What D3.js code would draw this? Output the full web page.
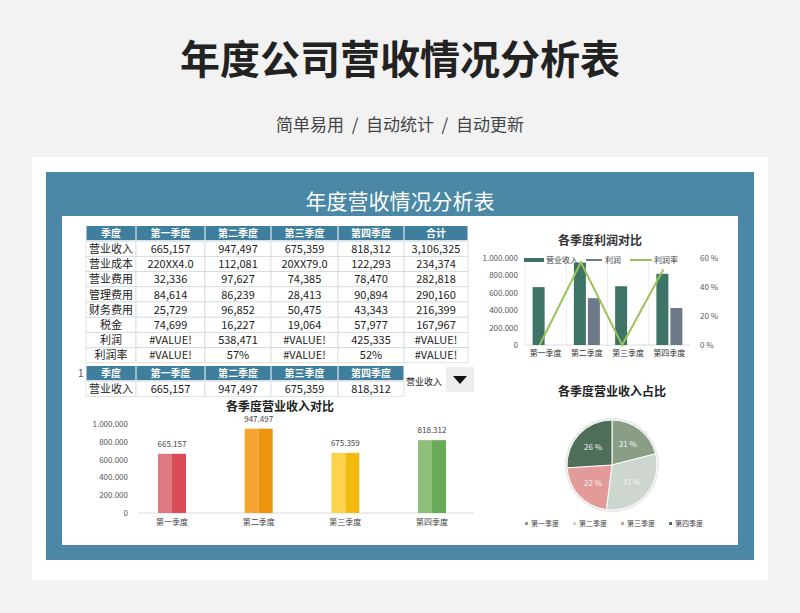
<!DOCTYPE html><html><head><meta charset="utf-8"><script src="https://cdn.jsdelivr.net/npm/d3@7"></script>
<style>body{margin:0;background:#f2f2f2;font-family:"Noto Sans CJK SC",sans-serif}</style></head><body>
<svg id="c" width="800" height="613"></svg>
<script>
const quarters=["第一季度","第二季度","第三季度","第四季度"];
const headers=["季度","第一季度","第二季度","第三季度","第四季度","合计"];
const rowNames=["营业收入","营业成本","营业费用","管理费用","财务费用","税金","利润","利润率"];
const tableRows=[
["665,157","947,497","675,359","818,312","3,106,325"],
["220XX4.0","112,081","20XX79.0","122,293","234,374"],
["32,336","97,627","74,385","78,470","282,818"],
["84,614","86,239","28,413","90,894","290,160"],
["25,729","96,852","50,475","43,343","216,399"],
["74,699","16,227","19,064","57,977","167,967"],
["#VALUE!","538,471","#VALUE!","425,335","#VALUE!"],
["#VALUE!","57%","#VALUE!","52%","#VALUE!"]];
const revenue=[665157,947497,675359,818312];
const profit=[0,538471,0,425335];
const profitRate=[0,0.57,0,0.52];
const revLabels=["665.157","947.497","675.359","818.312"];
const yTicks=[0,200000,400000,600000,800000,1000000];
const rateTicks=[0,0.2,0.4,0.6];
const share=[0.21,0.31,0.22,0.26];

const svg=d3.select("#c");
const fmt=v=>d3.format(",")(v).replace(/,/g,".");
svg.append("text").attr("x",400).attr("y",74).attr("text-anchor","middle").attr("font-size",40).attr("font-weight",700).attr("fill","#222").text("年度公司营收情况分析表");
svg.append("text").attr("x",400).attr("y",131).attr("text-anchor","middle").attr("font-size",17).attr("fill","#444").attr("xml:space","preserve").style("white-space","pre").text("简单易用  /  自动统计  /  自动更新");
svg.append("rect").attr("x",32).attr("y",157).attr("width",736).attr("height",423).attr("fill","#fff");
svg.append("rect").attr("x",46).attr("y",172).attr("width",708).attr("height",388).attr("fill","#4a88a6");
svg.append("rect").attr("x",62).attr("y",216).attr("width",676).attr("height",329).attr("fill","#fff");
svg.append("text").attr("x",400).attr("y",209).attr("text-anchor","middle").attr("font-size",21).attr("fill","#fff").text("年度营收情况分析表");

const colX=[86,136,205,271,338,404,468];
const rh=15.2, t0=226;
function drawTable(y0,hdr,rows,names){
  const g=svg.append("g");
  hdr.forEach((h,i)=>{
    g.append("rect").attr("x",colX[i]+0.5).attr("y",y0).attr("width",colX[i+1]-colX[i]-1).attr("height",rh-1).attr("fill","#3f7f9d");
    g.append("text").attr("x",(colX[i]+colX[i+1])/2).attr("y",y0+rh-4).attr("text-anchor","middle").attr("font-size",10).attr("font-weight",700).attr("fill","#fff").text(h);
  });
  rows.forEach((r,j)=>{
    const y=y0+rh*(j+1);
    [names[j]].concat(r).forEach((v,i)=>{
      g.append("rect").attr("x",colX[i]).attr("y",y).attr("width",colX[i+1]-colX[i]).attr("height",rh).attr("fill","#fff").attr("stroke","#cfd8dc").attr("stroke-width",0.7);
      g.append("text").attr("x",(colX[i]+colX[i+1])/2).attr("y",y+rh-3.5).attr("text-anchor","middle").attr("font-size",11).attr("fill","#222").text(v);
    });
  });
}
drawTable(t0,headers,tableRows,rowNames);
drawTable(366,headers.slice(0,5),[tableRows[0].slice(0,4)],["营业收入"]);
svg.append("text").attr("x",78).attr("y",377).attr("font-size",10).attr("fill","#555").text("1");
svg.append("text").attr("x",406).attr("y",385).attr("font-size",9).attr("fill","#222").text("营业收入");
svg.append("rect").attr("x",446).attr("y",367).attr("width",28).attr("height",25).attr("fill","#eee");
svg.append("path").attr("d","M453,376 L467,376 L460,384 Z").attr("fill","#111");

const x1=d3.scaleBand().domain(quarters).range([525,690]);
const y1=d3.scaleLinear().domain([0,1000000]).range([345,258]);
const y1r=d3.scaleLinear().domain([0,0.6]).range([345,258]);
svg.append("text").attr("x",600).attr("y",245).attr("text-anchor","middle").attr("font-size",12).attr("font-weight",700).attr("fill","#333").text("各季度利润对比");
const ga=svg.append("g").attr("font-size",8).attr("fill","#555");
yTicks.forEach(t=>ga.append("text").attr("x",518).attr("y",y1(t)+3).attr("text-anchor","end").text(t?fmt(t):"0"));
rateTicks.forEach(t=>ga.append("text").attr("x",700).attr("y",y1r(t)+3).text(Math.round(t*100)+" %"));
x1.domain().forEach(q=>svg.append("line").attr("x1",x1(q)).attr("x2",x1(q)).attr("y1",258).attr("y2",345).attr("stroke","#eee"));
svg.append("line").attr("x1",525).attr("x2",690).attr("y1",345).attr("y2",345).attr("stroke","#ddd");
const bw=12;
quarters.forEach((q,i)=>{
  svg.append("rect").attr("x",x1(q)+x1.bandwidth()/2-bw-1).attr("y",y1(revenue[i])).attr("width",bw).attr("height",345-y1(revenue[i])).attr("fill","#3e7468");
  if(profit[i]) svg.append("rect").attr("x",x1(q)+x1.bandwidth()/2+1).attr("y",y1(profit[i])).attr("width",bw).attr("height",345-y1(profit[i])).attr("fill","#6b7a86");
  svg.append("text").attr("x",x1(q)+x1.bandwidth()/2).attr("y",356).attr("text-anchor","middle").attr("font-size",8).attr("fill","#333").text(q);
});
svg.append("path").datum(profitRate).attr("d",d3.line().x((d,i)=>x1(quarters[i])+x1.bandwidth()/2-bw/2).y(d=>y1r(d))).attr("fill","none").attr("stroke","#9bc35a").attr("stroke-width",2);
const lg=svg.append("g").attr("font-size",8).attr("fill","#444");
lg.append("rect").attr("x",524).attr("y",258).attr("width",20).attr("height",4).attr("fill","#3e7468");
lg.append("text").attr("x",546).attr("y",263).text("营业收入");
lg.append("line").attr("x1",586).attr("x2",602).attr("y1",260).attr("y2",260).attr("stroke","#6b7a86").attr("stroke-width",2);
lg.append("text").attr("x",605).attr("y",263).text("利润");
lg.append("line").attr("x1",630).attr("x2",652).attr("y1",260).attr("y2",260).attr("stroke","#9bc35a").attr("stroke-width",2);
lg.append("text").attr("x",654).attr("y",263).text("利润率");

const y2=d3.scaleLinear().domain([0,1000000]).range([513,424]);
svg.append("text").attr("x",280).attr("y",411).attr("text-anchor","middle").attr("font-size",12).attr("font-weight",700).attr("fill","#222").text("各季度营业收入对比");
yTicks.forEach(t=>svg.append("text").attr("x",128).attr("y",y2(t)+3).attr("text-anchor","end").attr("font-size",8).attr("fill","#555").text(t?fmt(t):"0"));
svg.append("line").attr("x1",138).attr("x2",474).attr("y1",513).attr("y2",513).attr("stroke","#ddd");
const cols=[["#e07a82","#d94b57"],["#f7a530","#f09410"],["#fdd24f","#f2b90e"],["#8dbf7a","#6aab5a"]];
const x2=d3.scalePoint().domain(quarters).range([172,432]);
quarters.forEach((q,i)=>{
  const cx2=x2(q);
  const y=y2(revenue[i]);
  svg.append("rect").attr("x",cx2-14).attr("y",y).attr("width",14).attr("height",513-y).attr("fill",cols[i][0]);
  svg.append("rect").attr("x",cx2).attr("y",y).attr("width",14).attr("height",513-y).attr("fill",cols[i][1]);
  svg.append("text").attr("x",cx2).attr("y",y-7).attr("text-anchor","middle").attr("font-size",8).attr("fill","#444").text(revLabels[i]);
  svg.append("text").attr("x",cx2).attr("y",525).attr("text-anchor","middle").attr("font-size",8).attr("fill","#444").text(q);
});

const pcol=["#8a9e86","#cdd7d0","#e39b9a","#4f6e59"];
svg.append("text").attr("x",612).attr("y",396).attr("text-anchor","middle").attr("font-size",12).attr("font-weight",700).attr("fill","#222").text("各季度营业收入占比");
const pg=svg.append("g").attr("transform","translate(612,465)");
pg.append("circle").attr("r",47).attr("fill","#e8e8e8");
const arcs=d3.pie().sort(null)(share);
const arc=d3.arc().innerRadius(0).outerRadius(45);
pg.selectAll("path").data(arcs).join("path").attr("d",arc).attr("fill",(d,i)=>pcol[i]).attr("stroke","#fff").attr("stroke-width",1);
pg.selectAll("text").data(arcs).join("text").attr("transform",d=>`translate(${d3.arc().innerRadius(26).outerRadius(26).centroid(d)})`).attr("text-anchor","middle").attr("dy",3).attr("font-size",8).attr("fill","#f4f4f4").text(d=>Math.round(d.data*100)+" %");
quarters.forEach((q,i)=>{
  const lx=525+i*48;
  svg.append("rect").attr("x",lx).attr("y",522).attr("width",3).attr("height",3).attr("fill",pcol[i]);
  svg.append("text").attr("x",lx+6).attr("y",526).attr("font-size",7).attr("fill","#444").text(q);
});
</script></body></html>
